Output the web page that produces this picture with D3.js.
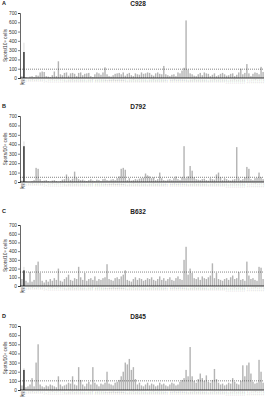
<!DOCTYPE html>
<html>
<head>
<meta charset="utf-8">
<script src="https://cdn.jsdelivr.net/npm/d3@7"></script>
<style>
  body { margin: 0; background: #fff; }
  svg { font-family: "Liberation Sans", Arial, sans-serif; }
</style>
</head>
<body>
<svg id="chart" width="267" height="400"></svg>
<script>
// Panel names and letters
const panelLetters = ["A", "B", "C", "D"];
const donors = ["C928", "D792", "B632", "D845"];

// Spots/10^6 cells per well, first = negative, second = positive control
const valsC928 = [
  20,280,10,5,15,20,10,30,25,60,70,65,20,15,10,30,70,20,180,40,
  30,55,60,25,50,55,45,20,55,60,30,45,50,55,20,10,40,60,50,35,
  60,115,40,20,15,30,45,50,55,40,60,25,45,55,30,20,50,40,35,60,
  45,50,60,55,35,25,50,60,45,40,130,40,30,20,35,40,20,60,50,80,
  110,620,90,50,40,25,20,40,55,30,60,50,45,20,35,50,20,30,45,55,
  40,25,30,45,50,20,35,60,100,40,55,150,50,20,45,60,55,40,120,65
];
const valsD792 = [
  15,380,10,5,5,10,20,150,140,30,10,15,20,10,5,15,20,10,5,10,
  25,30,80,40,20,35,110,45,30,20,25,15,10,20,30,15,10,25,20,10,
  30,35,20,15,25,30,20,40,60,140,150,130,20,40,15,20,30,25,35,40,
  45,90,70,60,40,50,20,30,100,40,20,15,25,30,20,40,60,30,20,50,
  380,40,60,170,120,50,30,25,20,30,35,20,15,40,30,25,80,100,50,20,
  40,30,20,15,25,30,370,40,20,30,50,160,140,30,20,40,45,100,50,30
];
const valsB632 = [
  80,180,60,40,160,50,70,240,280,150,60,40,70,50,80,60,90,70,200,60,
  50,80,100,130,70,60,90,80,220,100,70,150,60,80,90,70,110,60,80,70,
  90,100,250,80,70,60,90,100,80,110,130,180,70,60,50,80,100,70,90,80,
  60,70,90,80,100,70,60,80,110,70,90,60,80,100,70,60,90,110,80,70,
  300,450,130,200,150,90,80,100,70,110,90,80,100,120,260,90,150,80,70,60,
  80,90,70,100,120,80,90,160,70,80,60,280,120,80,90,70,60,220,210,80
];
const valsD845 = [
  50,220,30,40,60,130,40,300,500,60,40,30,50,40,60,50,40,30,150,60,
  40,50,60,80,70,150,60,50,250,110,60,40,70,90,60,250,80,60,40,70,
  60,80,200,70,60,50,80,90,110,150,200,300,280,340,220,250,120,60,80,50,
  40,60,80,50,70,60,40,50,80,60,70,50,40,60,80,70,50,60,90,110,
  130,220,150,470,150,100,80,120,180,130,100,160,90,80,110,230,120,80,60,70,
  50,60,80,70,130,90,70,60,100,270,150,270,300,180,90,70,80,330,200,80
];
const seriesVals = [valsC928, valsD792, valsB632, valsD845];

// Positivity cut-off (dotted line) and positive control upper whisker
const cutoffs = [95, 50, 160, 100];
const posCtrlTop = [380, 430, 220, 240];

// Well labels along x
const wells = ["Neg", "Pos"].concat(d3.range(1, valsC928.length - 1).map(i => "P" + i));

const yTicks = [0, 100, 200, 300, 400, 500, 600, 700];

// Vertical placement of each panel: title row, plot top, plot bottom
const panelPos = [
  {title: 5, top: 13, bottom: 78},
  {title: 108, top: 116, bottom: 182},
  {title: 213, top: 225, bottom: 286},
  {title: 318, top: 326, bottom: 390}
];

const left = 20, right = 264;
const svg = d3.select("#chart");

const x = d3.scaleBand()
  .domain(wells)
  .range([left + 1, right])
  .paddingInner(0.3)
  .paddingOuter(0.1);

donors.forEach((name, p) => {
  const pos = panelPos[p];
  const vals = seriesVals[p];
  const g = svg.append("g");

  const y = d3.scaleLinear()
    .domain([0, 700])
    .range([pos.bottom, pos.top]);

  // Panel letter and donor title
  g.append("text")
    .attr("x", 2)
    .attr("y", pos.title)
    .style("font-size", "5.5px")
    .style("font-weight", "bold")
    .attr("fill", "#222")
    .text(panelLetters[p]);
  g.append("text")
    .attr("x", 138)
    .attr("y", pos.title + 1)
    .attr("text-anchor", "middle")
    .style("font-size", "6.5px")
    .style("font-weight", "bold")
    .attr("fill", "#222")
    .text(name);

  // Bars
  g.selectAll("rect.bar")
    .data(vals)
    .join("rect")
    .attr("class", "bar")
    .attr("x", (d, i) => x(wells[i]))
    .attr("y", d => y(d))
    .attr("width", x.bandwidth())
    .attr("height", d => y(0) - y(d))
    .attr("fill", (d, i) => i === 1 ? "#222" : "#b4b4b4");

  // Whisker on positive control
  g.append("line")
    .attr("x1", x(wells[1]) + x.bandwidth() / 2)
    .attr("x2", x(wells[1]) + x.bandwidth() / 2)
    .attr("y1", y(vals[1]))
    .attr("y2", y(posCtrlTop[p]))
    .attr("stroke", "#bbb")
    .attr("stroke-width", 0.5);

  // Cut-off line
  g.append("line")
    .attr("x1", left)
    .attr("x2", right)
    .attr("y1", y(cutoffs[p]))
    .attr("y2", y(cutoffs[p]))
    .attr("stroke", "#333")
    .attr("stroke-width", 0.6)
    .attr("stroke-dasharray", "1,1");

  // Y axis
  const yAxis = g.append("g")
    .attr("transform", `translate(${left},0)`)
    .call(d3.axisLeft(y).tickValues(yTicks).tickSize(2).tickPadding(1));
  yAxis.select(".domain").attr("stroke-width", 0.6);
  yAxis.selectAll(".tick line").attr("stroke-width", 0.5);
  yAxis.selectAll("text")
    .style("font-size", "4.8px")
    .style("font-family", "Liberation Sans, Arial, sans-serif")
    .attr("fill", "#333");

  // X axis with tiny well labels
  const xAxis = g.append("g")
    .attr("transform", `translate(0,${pos.bottom})`)
    .call(d3.axisBottom(x).tickSize(0.8).tickSizeOuter(0).tickPadding(0.5));
  xAxis.select(".domain")
    .attr("d", `M${left},0H${right}`)
    .attr("stroke-width", 0.8);
  xAxis.selectAll(".tick line").attr("stroke", "#999").attr("stroke-width", 0.3);
  xAxis.selectAll("text")
    .style("font-size", "1.8px")
    .style("font-family", "Liberation Sans, Arial, sans-serif")
    .attr("fill", "#777")
    .attr("transform", "rotate(-90)")
    .attr("text-anchor", "end")
    .attr("x", -1.5)
    .attr("y", 0)
    .attr("dy", "0.35em");
  xAxis.selectAll(".tick").filter((d, i) => i < 2).select("text")
    .style("font-size", "3px")
    .attr("fill", "#444");

  // Y axis title
  g.append("text")
    .attr("transform", `translate(6.5,${(pos.top + pos.bottom) / 2}) rotate(-90)`)
    .attr("text-anchor", "middle")
    .style("font-size", "5px")
    .attr("fill", "#333")
    .text("Spots/10⁶ cells");
});
</script>
</body>
</html>
